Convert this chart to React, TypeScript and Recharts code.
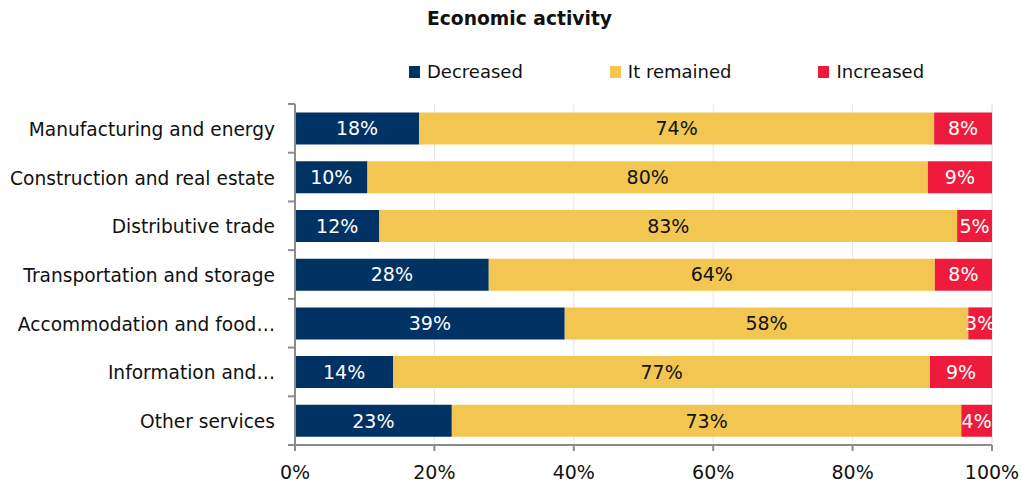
import {
  BarChart, Bar, XAxis, YAxis, CartesianGrid, LabelList,
} from "recharts";

const categories = [
  "Manufacturing and energy",
  "Construction and real estate",
  "Distributive trade",
  "Transportation and storage",
  "Accommodation and food…",
  "Information and…",
  "Other services",
];
const decreased = [17.8, 10.4, 12.1, 27.8, 38.7, 14.1, 22.5];
const remained = [73.9, 80.4, 82.9, 64.0, 57.9, 77.0, 73.1];
const increased = [8.3, 9.2, 5.0, 8.2, 3.4, 8.9, 4.4];
const xTicks = [0, 20, 40, 60, 80, 100];

const series = [
  { key: "decreased", name: "Decreased", color: "#003263", text: "#ffffff" },
  { key: "remained", name: "It remained", color: "#F2C651", text: "#111111" },
  { key: "increased", name: "Increased", color: "#EE1B3C", text: "#ffffff" },
];

const data = categories.map((name, i) => ({
  name,
  decreased: decreased[i],
  remained: remained[i],
  increased: increased[i],
}));

const FONT = "'DejaVu Sans', Verdana, sans-serif";
const TOP = 104;
const HEIGHT = 485;
const XAXIS_H = 40;
const band = (HEIGHT - TOP - XAXIS_H) / categories.length;

// category label + tick marks sitting on the band boundaries
function CatTick(props: any) {
  const { x, y, payload, index } = props;
  const axisX = x + 20;
  return (
    <g>
      <text x={x} y={y + 1} textAnchor="end" dominantBaseline="central"
        fontFamily={FONT} fontSize={18.6} fill="#111">
        {payload.value}
      </text>
      <line x1={axisX - 7} x2={axisX} y1={y - band / 2} y2={y - band / 2} stroke="#8c8c8c" strokeWidth={2} />
      {index === categories.length - 1 && (
        <line x1={axisX - 7} x2={axisX} y1={y + band / 2} y2={y + band / 2} stroke="#8c8c8c" strokeWidth={2} />
      )}
    </g>
  );
}

function LegendBox() {
  return (
    <div style={{
      position: "absolute", top: 61, left: 0, display: "flex", paddingLeft: 409, gap: 87,
      fontFamily: FONT, fontSize: 18, color: "#111",
    }}>
      {series.map(s => (
        <div key={s.key} style={{ display: "flex", alignItems: "center" }}>
          <span style={{ width: 11, height: 12, background: s.color, display: "inline-block", marginRight: 7 }} />
          <span>{s.name}</span>
        </div>
      ))}
    </div>
  );
}

export default function App() {
  return (
    <div style={{ position: "absolute", left: 0, top: 0, width: 1022, height: HEIGHT, background: "#fff" }}>
      <div style={{
        position: "absolute", top: 8, left: 0, width: 1039, textAlign: "center",
        fontFamily: FONT, fontWeight: "bold", fontSize: 18.7, color: "#111",
      }}>
        Economic activity
      </div>
      <LegendBox />
      <BarChart
        width={1022}
        height={HEIGHT}
        data={data}
        layout="vertical"
        margin={{ top: TOP, right: 30, bottom: 0, left: 0 }}
        barCategoryGap="17.5%"
      >
        <CartesianGrid horizontal={false} stroke="#e6e6e6" />
        <XAxis
          type="number"
          domain={[0, 100]}
          ticks={xTicks}
          tickFormatter={v => `${v}%`}
          height={XAXIS_H}
          stroke="#8c8c8c"
          strokeWidth={2}
          tickSize={6}
          tickMargin={15}
          tick={{ fontFamily: FONT, fontSize: 19, fill: "#111" }}
        />
        <YAxis
          type="category"
          dataKey="name"
          width={295}
          stroke="#8c8c8c"
          strokeWidth={2}
          tickLine={false}
          tickSize={0}
          tickMargin={20}
          tick={<CatTick />}
          interval={0}
        />
        {series.map(s => (
          <Bar key={s.key} dataKey={s.key} name={s.name} stackId="a" fill={s.color}
            isAnimationActive={false}>
            <LabelList
              dataKey={s.key}
              position="center"
              formatter={(v: any) => `${Math.round(Number(v))}%`}
              fill={s.text}
              style={{ fontFamily: FONT, fontSize: 19 }}
            />
          </Bar>
        ))}
      </BarChart>
    </div>
  );
}
